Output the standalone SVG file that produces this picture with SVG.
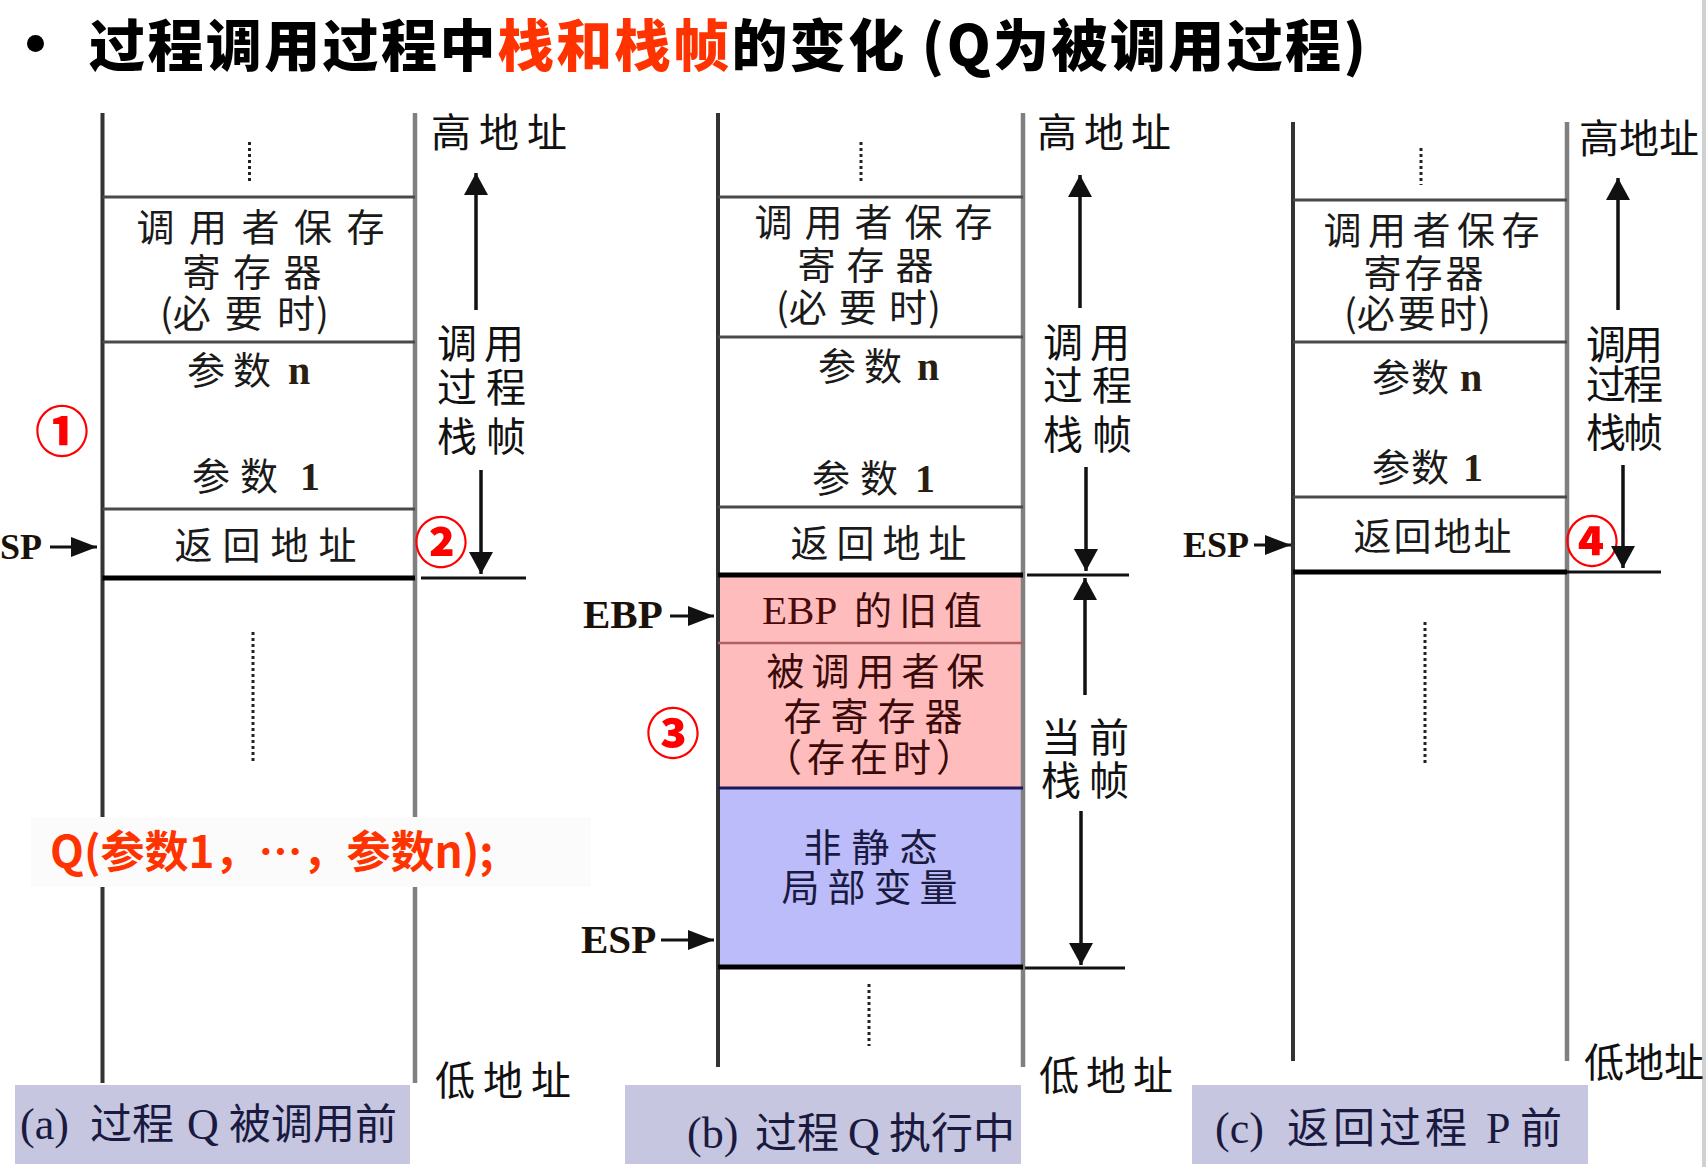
<svg xmlns="http://www.w3.org/2000/svg" width="1706" height="1167" viewBox="0 0 1706 1167">
<defs>
<style>
.cj{font-family:"Noto Sans CJK SC","Noto Sans",sans-serif;font-size:38px;fill:#1a1a1a}
.side{font-family:"Noto Sans CJK SC","Noto Sans",sans-serif;font-size:40px;fill:#111}
.ser{font-family:"Liberation Serif","Noto Sans CJK SC",serif;font-weight:bold;fill:#2a1e10}
.reg{font-family:"Liberation Serif","Noto Sans CJK SC",serif;font-size:36px;font-weight:bold;fill:#1a1208}
.regb{font-family:"Liberation Serif","Noto Sans CJK SC",serif;font-size:41px;font-weight:bold;fill:#1a1208}
.cap{font-family:"Noto Sans CJK SC","Noto Sans",sans-serif;font-size:42px;fill:#1a1a40}
.capl{font-family:"Liberation Serif","Noto Sans CJK SC",serif;font-size:44px;fill:#1a1a40}
.num{font-family:"Noto Sans CJK SC","DejaVu Sans",sans-serif;font-size:54px;font-weight:900;fill:#ff0000;text-anchor:middle}
.vl{stroke:#333;stroke-width:4}
.vr{stroke:#808080;stroke-width:4.5}
.hl{stroke:#4a4a4a;stroke-width:3}
.hk{stroke:#000;stroke-width:5}
.ho{stroke:#111;stroke-width:3}
.dot{stroke:#222;stroke-width:3;stroke-dasharray:3 3}
.arr{stroke:#111;stroke-width:3.5;fill:none;marker-end:url(#big)}
.sar{stroke:#111;stroke-width:3;fill:none;marker-end:url(#small)}
.capbox{fill:#c6c6e1}
</style>
<marker id="big" markerUnits="userSpaceOnUse" markerWidth="22" markerHeight="24" refX="22" refY="12" orient="auto">
<path d="M0,0 L22,12 L0,24 z" fill="#111"/>
</marker>
<marker id="small" markerUnits="userSpaceOnUse" markerWidth="26" markerHeight="20" refX="26" refY="10" orient="auto">
<path d="M0,0 L26,10 L0,20 z" fill="#111"/>
</marker>
</defs>
<rect x="0" y="0" width="1706" height="1167" fill="#ffffff"/>
<rect x="1702" y="0" width="4" height="1167" fill="#d0d0d0"/>

<g id="title">
<circle cx="35.5" cy="43.5" r="8.5" fill="#000"/>
<text x="89" y="66" font-family="'Noto Sans CJK SC','Noto Sans',sans-serif" font-size="56" font-weight="900" letter-spacing="2.4" fill="#000">过程调用过程中<tspan fill="#ff3300">栈和栈帧</tspan>的变化 (Q为被调用过程)</text>
</g>

<!-- Panel A -->
<g id="panel-a">
<line class="vl" x1="102.5" y1="113" x2="102.5" y2="1083"/>
<line class="vr" x1="415" y1="113" x2="415" y2="1083"/>
<line class="hl" x1="102.5" y1="197" x2="415" y2="197"/>
<line class="hl" x1="102.5" y1="342" x2="415" y2="342"/>
<line class="hl" x1="102.5" y1="509" x2="415" y2="509"/>
<line class="hk" x1="102.5" y1="578" x2="415" y2="578"/>
<line class="dot" x1="249.5" y1="142" x2="249.5" y2="182"/>
<line class="dot" x1="253" y1="632" x2="253" y2="763"/>
</g>
<g id="a-caller-saved"><text class="cj"><tspan x="136.5" y="241" letter-spacing="14.5">调用者保存</tspan><tspan x="182.5" y="286" letter-spacing="12.5">寄存器</tspan><tspan x="160" y="327">(</tspan><tspan letter-spacing="14">必要</tspan><tspan letter-spacing="1">时)</tspan></text></g>
<g id="a-args"><text class="cj" x="187" y="384" letter-spacing="8">参数</text><text class="ser" x="288" y="384" font-size="40">n</text><text class="cj" x="192" y="490" letter-spacing="10">参数</text><text class="ser" x="300" y="490" font-size="40">1</text></g>
<g id="a-ret"><text class="cj" x="174.5" y="559" letter-spacing="10">返回地址</text></g>
<g id="a-sp"><text class="reg" x="0" y="559">SP</text></g>
<g id="a-labels">
<text class="num" x="62" y="452">①</text>
<text class="num" x="441" y="563">②</text>
<text class="side" x="431" y="147" letter-spacing="8">高地址</text>
<text class="side"><tspan x="437" y="358" letter-spacing="7">调用</tspan><tspan x="437" y="402" letter-spacing="9">过程</tspan><tspan x="437" y="451" letter-spacing="9">栈帧</tspan></text>
<text class="side" x="435" y="1095" letter-spacing="8">低地址</text>
</g>
<g id="a-qcall">
<rect x="31" y="817" width="560" height="70" fill="#fbfbfb"/>
<text x="50" y="868" font-family="'Noto Sans CJK SC','Noto Sans',sans-serif" font-size="44" font-weight="bold" fill="#ff3300">Q(参数1，…，参数n);</text>
</g>
<g id="a-caption">
<rect class="capbox" x="15" y="1085" width="395" height="79"/>
<text class="capl" x="20" y="1139">(a)</text><text class="cap" x="90" y="1139">过程</text><text class="capl" x="187" y="1139">Q</text><text class="cap" x="229" y="1139">被调用前</text>
</g>

<!-- Panel B -->
<g id="panel-b">
<rect x="718" y="575" width="305" height="213" fill="#ffbcbc"/>
<rect x="718" y="788" width="305" height="179" fill="#bcbcfa"/>
<line class="vl" x1="718" y1="113" x2="718" y2="1067"/>
<line class="vr" x1="1023" y1="113" x2="1023" y2="1067"/>
<line class="hl" x1="718" y1="197" x2="1023" y2="197"/>
<line class="hl" x1="718" y1="337" x2="1023" y2="337"/>
<line class="hl" x1="718" y1="507" x2="1023" y2="507"/>
<line class="hk" x1="718" y1="575" x2="1023" y2="575"/>
<line stroke="#b06060" stroke-width="2.5" x1="718" y1="643" x2="1023" y2="643"/>
<line stroke="#1a1a5a" stroke-width="3" x1="718" y1="788" x2="1023" y2="788"/>
<line class="hk" x1="718" y1="967" x2="1023" y2="967"/>
<line class="dot" x1="861" y1="142" x2="861" y2="182"/>
<line class="dot" x1="869" y1="984" x2="869" y2="1046"/>
</g>
<g id="b-caller-saved"><text class="cj"><tspan x="754.5" y="236" letter-spacing="12">调用者保存</tspan><tspan x="797.5" y="279" letter-spacing="11">寄存器</tspan><tspan x="776" y="321">(</tspan><tspan letter-spacing="12">必要</tspan><tspan letter-spacing="1">时)</tspan></text></g>
<g id="b-args"><text class="cj" x="818" y="380" letter-spacing="8">参数</text><text class="ser" x="917" y="380" font-size="40">n</text><text class="cj" x="812" y="492" letter-spacing="10">参数</text><text class="ser" x="915" y="492" font-size="40">1</text></g>
<g id="b-ret"><text class="cj" x="790.5" y="557" letter-spacing="8">返回地址</text></g>
<g id="b-ebp"><text x="762" y="624" font-family="'Liberation Serif',serif" font-size="41" fill="#4a0a0a">EBP</text><text class="cj" x="854" y="624" letter-spacing="7" style="fill:#3a0a0a">的旧值</text></g>
<g id="b-callee-saved"><text class="cj" style="fill:#3a0a0a"><tspan x="766.5" y="685" letter-spacing="7">被调用者保</tspan><tspan x="783.5" y="730" letter-spacing="9">存寄存器</tspan><tspan x="764" y="771" letter-spacing="5">（存在时）</tspan></text></g>
<g id="b-locals"><text class="cj" style="fill:#1a1a40"><tspan x="803.5" y="861" letter-spacing="10">非静态</tspan><tspan x="781.5" y="901" letter-spacing="8">局部变量</tspan></text></g>
<g id="b-ptrs"><text class="regb" x="583" y="628">EBP</text><text class="regb" x="581" y="953">ESP</text></g>
<g id="b-labels">
<text class="num" x="673" y="754">③</text>
<text class="side" x="1037" y="147" letter-spacing="7">高地址</text>
<text class="side"><tspan x="1043" y="357" letter-spacing="7">调用</tspan><tspan x="1043" y="400" letter-spacing="9">过程</tspan><tspan x="1043" y="449" letter-spacing="9">栈帧</tspan></text>
<text class="side"><tspan x="1041" y="752" letter-spacing="8">当前</tspan><tspan x="1041" y="795" letter-spacing="8">栈帧</tspan></text>
<text class="side" x="1039" y="1090" letter-spacing="7">低地址</text>
</g>
<g id="b-caption">
<rect class="capbox" x="625" y="1085" width="396" height="79"/>
<text class="capl" x="687" y="1148">(b)</text><text class="cap" x="755" y="1148">过程</text><text class="capl" x="848" y="1148">Q</text><text class="cap" x="889" y="1148">执行中</text>
</g>

<!-- Panel C -->
<g id="panel-c">
<line class="vl" x1="1293" y1="122" x2="1293" y2="1061"/>
<line class="vr" x1="1567" y1="122" x2="1567" y2="1061"/>
<line class="hl" x1="1293" y1="200" x2="1567" y2="200"/>
<line class="hl" x1="1293" y1="342" x2="1567" y2="342"/>
<line class="hl" x1="1293" y1="497" x2="1567" y2="497"/>
<line class="hk" x1="1293" y1="572" x2="1567" y2="572"/>
<line class="dot" x1="1421" y1="148" x2="1421" y2="185"/>
<line class="dot" x1="1425" y1="622" x2="1425" y2="765"/>
</g>
<g id="c-caller-saved"><text class="cj"><tspan x="1323.5" y="244" letter-spacing="6.5">调用者保存</tspan><tspan x="1363.5" y="287" letter-spacing="3">寄存器</tspan><tspan x="1344" y="327">(</tspan><tspan letter-spacing="3">必要</tspan><tspan letter-spacing="1">时)</tspan></text></g>
<g id="c-args"><text class="cj" x="1372" y="391" letter-spacing="1">参数</text><text class="ser" x="1460" y="391" font-size="40">n</text><text class="cj" x="1372" y="481" letter-spacing="1">参数</text><text class="ser" x="1463" y="481" font-size="40">1</text></g>
<g id="c-ret"><text class="cj" x="1353.5" y="550" letter-spacing="2">返回地址</text></g>
<g id="c-esp"><text class="reg" x="1183" y="557">ESP</text></g>
<g id="c-labels">
<text class="num" x="1592" y="562">④</text>
<text class="side" x="1579" y="153">高地址</text>
<text class="side" letter-spacing="-3"><tspan x="1586" y="359">调用</tspan><tspan x="1586" y="399">过程</tspan><tspan x="1586" y="447">栈帧</tspan></text>
<text class="side" x="1584" y="1077">低地址</text>
</g>
<g id="c-caption">
<rect class="capbox" x="1192" y="1085" width="396" height="79"/>
<text class="capl" x="1215" y="1143">(c)</text><text class="cap" x="1287" y="1143" letter-spacing="4">返回过程</text><text class="capl" x="1486" y="1143">P</text><text class="cap" x="1520" y="1143">前</text>
</g>

<g id="connectors">
<line class="sar" x1="50" y1="547" x2="97" y2="547"/>
<line class="ho" x1="421" y1="578" x2="526" y2="578"/>
<line class="arr" x1="476" y1="310" x2="476" y2="173"/>
<line class="arr" x1="481" y1="470" x2="481" y2="574"/>

<line class="sar" x1="670" y1="616" x2="714" y2="616"/>
<line class="sar" x1="661" y1="940" x2="714" y2="940"/>
<line class="ho" x1="1027" y1="575" x2="1129" y2="575"/>
<line class="ho" x1="1025" y1="968" x2="1125" y2="968"/>
<line class="arr" x1="1080" y1="308" x2="1080" y2="175"/>
<line class="arr" x1="1086" y1="467" x2="1086" y2="571"/>
<line class="arr" x1="1085" y1="695" x2="1085" y2="578"/>
<line class="arr" x1="1081" y1="811" x2="1081" y2="965"/>

<line class="sar" x1="1254" y1="545" x2="1291" y2="545"/>
<line class="ho" x1="1567" y1="572" x2="1661" y2="572"/>
<line class="arr" x1="1618" y1="310" x2="1618" y2="178"/>
<line class="arr" x1="1623" y1="465" x2="1623" y2="568"/>
</g>
</svg>
